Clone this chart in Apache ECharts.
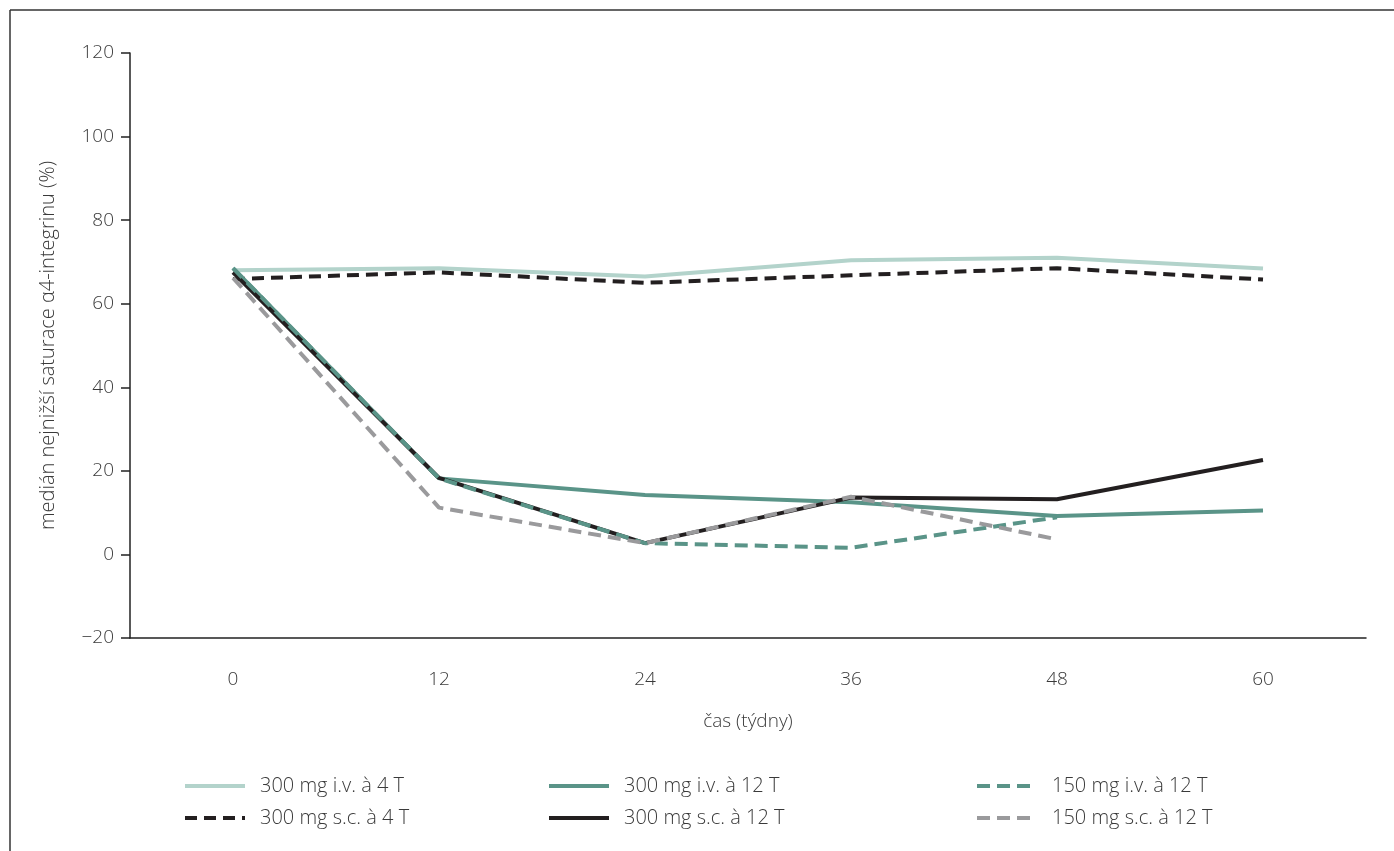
<!DOCTYPE html>
<html>
<head>
<meta charset="utf-8">
<script src="https://cdn.jsdelivr.net/npm/echarts@6/dist/echarts.min.js"></script>
<style>
html,body{margin:0;padding:0;background:#fff;}
#c{width:1394px;height:851px;}
</style>
</head>
<body>
<div id="c"></div>
<script>
const categories = ['0', '12', '24', '36', '48', '60'];
const yTicks = [-20, 0, 20, 40, 60, 80, 100, 120];

const iv300q4 = [68.0, 68.5, 66.5, 70.4, 71.0, 68.4];
const sc300q4 = [65.9, 67.5, 65.0, 66.8, 68.5, 65.8];
const iv300q12 = [68.5, 18.2, 14.2, 12.5, 9.2, 10.5];
const sc300q12 = [67.5, 18.3, 2.7, 13.6, 13.2, 22.6];
const iv150q12 = [68.5, 18.2, 2.7, 1.6, 8.9, null];
const sc150q12 = [66.2, 11.2, 2.7, 13.8, 3.6, null];

const names = ['300 mg i.v. à 4 T', '300 mg s.c. à 4 T', '300 mg i.v. à 12 T',
               '300 mg s.c. à 12 T', '150 mg i.v. à 12 T', '150 mg s.c. à 12 T'];

const FONT = '"Open Sans", "Noto Sans", sans-serif';
const TXT = '#3a3a3a';

const chart = echarts.init(document.getElementById('c'), null, {renderer: 'canvas'});

function mk(name, data, color, type, z) {
  return {
    name: name, type: 'line', data: data, symbol: 'none', z: z,
    lineStyle: {color: color, width: 4, type: type, cap: 'butt'},
    itemStyle: {color: color},
    emphasis: {disabled: true}
  };
}

function leg(name, left, top) {
  return {
    data: [name], left: left, top: top, orient: 'horizontal',
    itemWidth: 60, itemHeight: 14, selectedMode: false,
    itemStyle: {opacity: 0, borderWidth: 0},
    lineStyle: {width: 4},
    textStyle: {fontFamily: FONT, fontSize: 20, color: TXT, fontWeight: 300, padding: [0, 0, 0, 10]}
  };
}

chart.setOption({
  animation: false,
  backgroundColor: '#fff',
  grid: {left: 130, right: 28, top: 53, bottom: 213},
  graphic: [
    {type: 'line', shape: {x1: 10, y1: 10, x2: 1394, y2: 10}, style: {stroke: '#333', lineWidth: 1.5}},
    {type: 'line', shape: {x1: 10, y1: 10, x2: 10, y2: 851}, style: {stroke: '#333', lineWidth: 1.5}}
  ],
  legend: [
    leg(names[0], 178, 771),
    leg(names[2], 542, 771),
    leg(names[4], 970, 771),
    leg(names[1], 178, 803),
    leg(names[3], 542, 803),
    leg(names[5], 970, 803)
  ],
  xAxis: {
    type: 'category', data: categories, boundaryGap: true,
    name: 'čas (týdny)', nameLocation: 'middle', nameGap: 74,
    nameTextStyle: {fontFamily: FONT, fontSize: 19, color: TXT, fontWeight: 300},
    axisLine: {onZero: false, lineStyle: {color: '#222', width: 1.5}},
    axisTick: {show: false},
    axisLabel: {fontFamily: FONT, fontSize: 19, color: TXT, margin: 32, fontWeight: 300},
    splitLine: {show: false}
  },
  yAxis: {
    type: 'value', min: yTicks[0], max: yTicks[yTicks.length - 1], interval: 20,
    name: 'medián nejnižší saturace α4-integrinu (%)', nameLocation: 'middle', nameGap: 72,
    nameRotate: 90,
    nameTextStyle: {fontFamily: FONT, fontSize: 20, color: TXT, fontWeight: 300},
    axisLine: {show: true, lineStyle: {color: '#222', width: 1.5}},
    axisTick: {show: true, length: 9, lineStyle: {color: '#222', width: 1.5}},
    axisLabel: {fontFamily: FONT, fontSize: 19, color: TXT, margin: 16, fontWeight: 300,
      formatter: v => (v < 0 ? '\u2212' + Math.abs(v) : String(v))},
    splitLine: {show: false}
  },
  series: [
    mk(names[0], iv300q4, '#b3d3cb', 'solid', 2),
    mk(names[1], sc300q4, '#231f20', [12, 7], 3),
    mk(names[2], iv300q12, '#5a9488', 'solid', 4),
    mk(names[3], sc300q12, '#231f20', 'solid', 5),
    mk(names[4], iv150q12, '#5a9488', [13, 7], 6),
    mk(names[5], sc150q12, '#9a9a9c', [13, 7], 7)
  ]
});
</script>
</body>
</html>
